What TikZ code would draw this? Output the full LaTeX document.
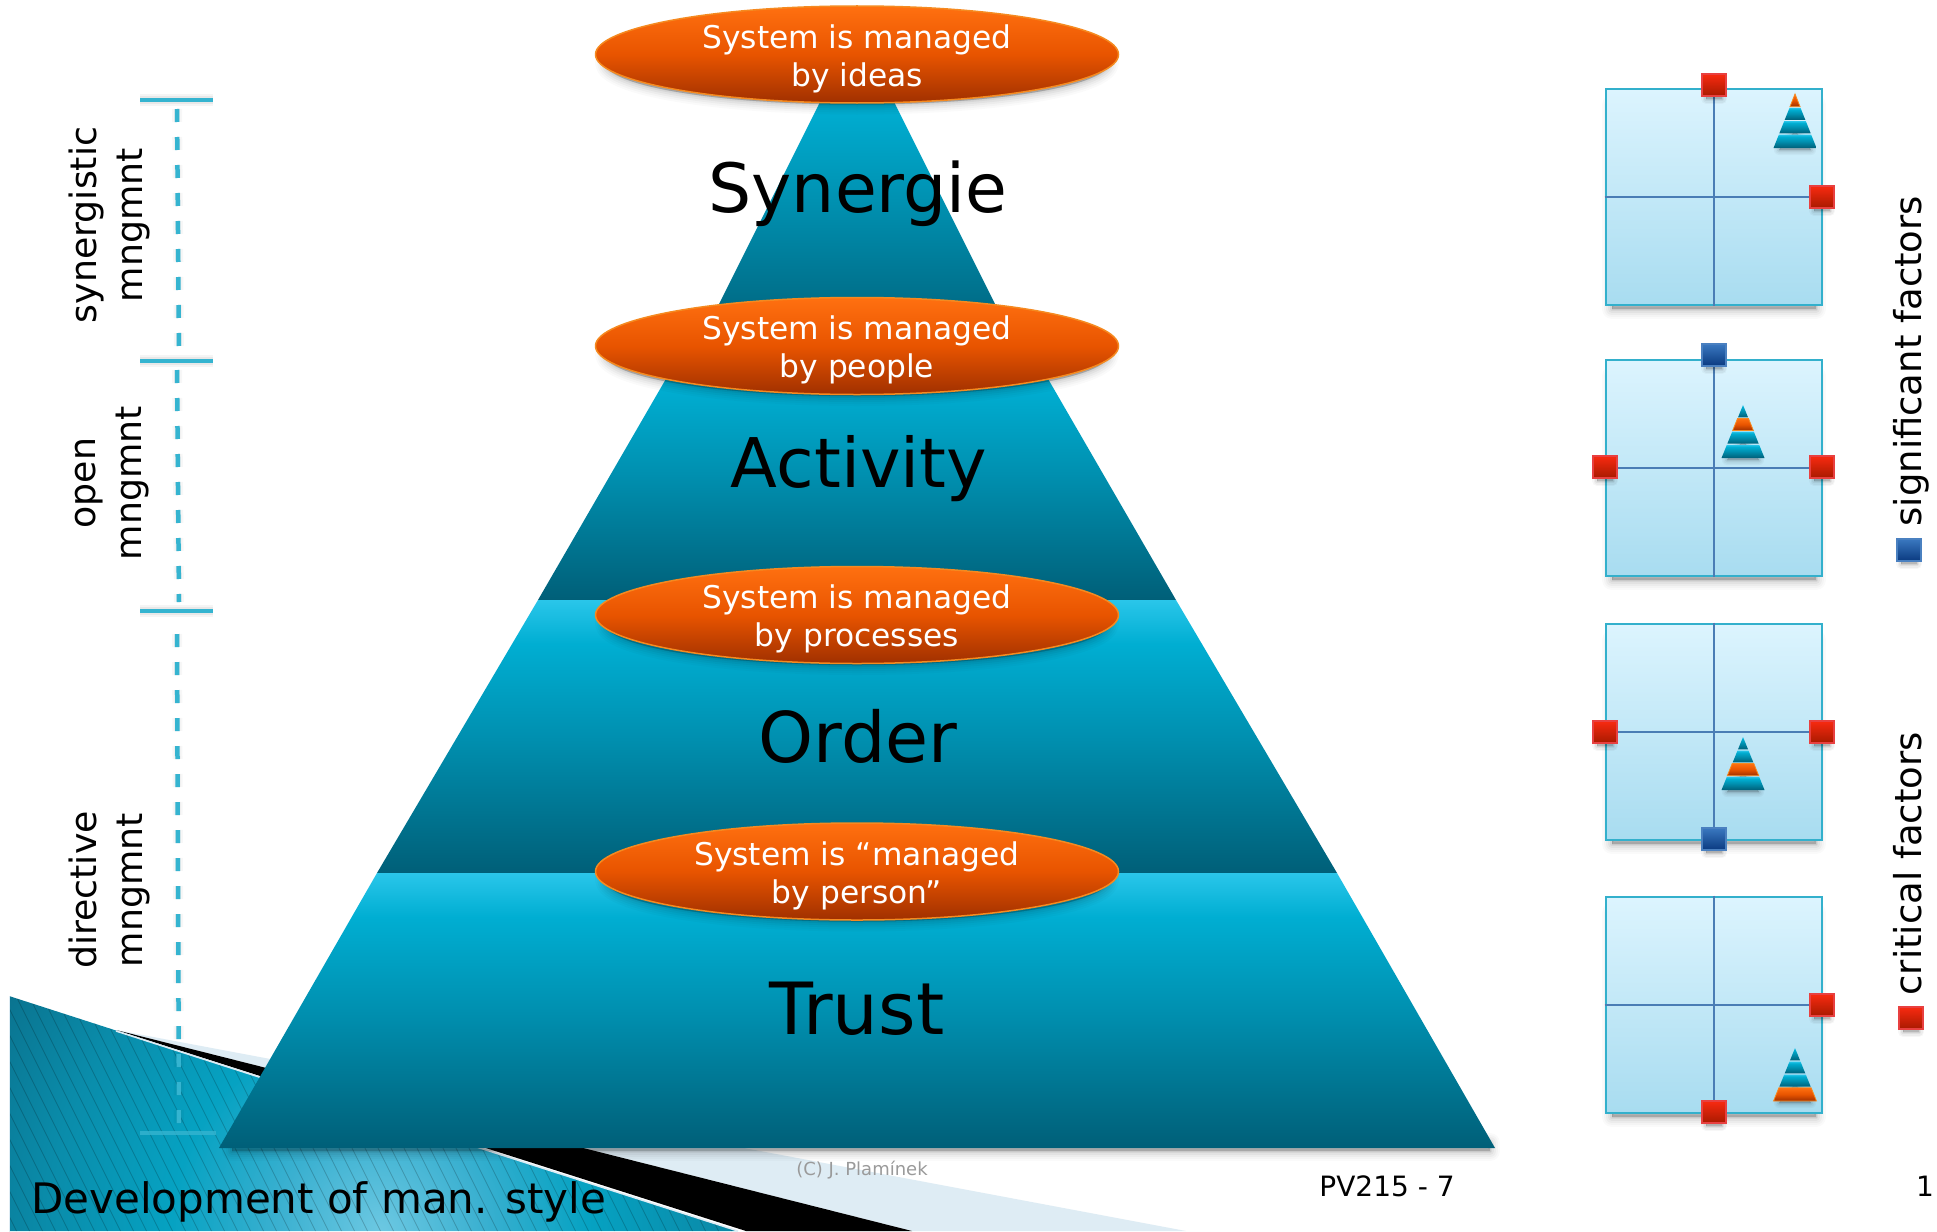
\documentclass[tikz,border=0pt]{standalone}
\usepackage{fontspec}
\setmainfont{DejaVu Sans}
\usetikzlibrary{shapes.geometric}
\definecolor{lvA}{HTML}{005F78}\definecolor{lvB}{HTML}{0090B0}\definecolor{lvC}{HTML}{00AED2}\definecolor{lvD}{HTML}{2AC6EA}
\definecolor{orA}{HTML}{A03000}\definecolor{orB}{HTML}{E85400}\definecolor{orC}{HTML}{FF7010}\definecolor{orE}{HTML}{F58A20}
\definecolor{rdA}{HTML}{A81A00}\definecolor{rdB}{HTML}{F82A10}\definecolor{rdE}{HTML}{E84040}
\definecolor{blA}{HTML}{0A3A80}\definecolor{blB}{HTML}{3A78C0}\definecolor{blE}{HTML}{4A80C0}
\definecolor{pgA}{HTML}{A8DCF0}\definecolor{pgB}{HTML}{DCF4FE}\definecolor{pgE}{HTML}{33B0CC}\definecolor{crossC}{HTML}{4A7DB5}
\definecolor{bandC}{HTML}{DEECF4}\definecolor{brk}{HTML}{35B4D0}\definecolor{gryT}{HTML}{9A9A9A}
\definecolor{sA}{HTML}{0A7490}\definecolor{sE}{HTML}{0A8CAA}\definecolor{sB}{HTML}{06A2C2}\definecolor{sC}{HTML}{3AB0D0}\definecolor{sD}{HTML}{6CC8E2}
\pgfdeclareverticalshading{levelshade}{100bp}{color(0bp)=(lvA);color(25bp)=(lvA);color(50bp)=(lvB);color(67bp)=(lvC);color(75bp)=(lvD);color(100bp)=(lvD)}
\pgfdeclareverticalshading{orangeshade}{100bp}{color(0bp)=(orA);color(25bp)=(orA);color(50bp)=(orB);color(75bp)=(orC);color(100bp)=(orC)}
\pgfdeclareverticalshading{redshade}{100bp}{color(0bp)=(rdA);color(25bp)=(rdA);color(75bp)=(rdB);color(100bp)=(rdB)}
\pgfdeclareverticalshading{blueshade}{100bp}{color(0bp)=(blA);color(25bp)=(blA);color(75bp)=(blB);color(100bp)=(blB)}
\pgfdeclareverticalshading{pageshade}{100bp}{color(0bp)=(pgA);color(25bp)=(pgA);color(75bp)=(pgB);color(100bp)=(pgB)}
\pgfdeclareradialshading{bgshade}{\pgfpoint{0bp}{0bp}}{color(0bp)=(sD);color(5bp)=(sC);color(10bp)=(sB);color(16bp)=(sE);color(21bp)=(sA);color(50bp)=(sA)}
\newcommand{\softshd}[2]{%
  \foreach \w/\o in {20/.02,16/.025,12/.03,8/.04,4/.05,1/.06}{%
    \fill[black,draw=black,line join=round,line width=\w pt,opacity=\o,yshift=-#1 pt] #2;}}
% mini pyramid: centre x, top y, bottom y, half width, orange level (1..4)
\newcommand{\minipyr}[5]{%
  \pgfmathsetmacro{\mh}{#3-#2}
  \foreach \w/\o in {10/.03,7/.04,4/.05,1/.06}{%
    \fill[black,draw=black,line join=round,line width=\w pt,opacity=\o,yshift=-5pt] (#1-#4*.75,#3-3) -- (#1,#3-22) -- (#1+#4*.75,#3-3) -- cycle;}
  \foreach \lv/\fa/\fb in {1/0/.235,2/.255/.48,3/.50/.73,4/.75/1}{%
    \pgfmathsetmacro{\ya}{#2+\fa*\mh}
    \pgfmathsetmacro{\yb}{#2+\fb*\mh}
    \pgfmathsetmacro{\wa}{#4*\fa}
    \pgfmathsetmacro{\wb}{#4*\fb}
    \ifnum\lv=#5\relax
      \path[shading=orangeshade,draw=orE,line width=.8pt] (#1-\wa,\ya) -- (#1+\wa,\ya) -- (#1+\wb,\yb) -- (#1-\wb,\yb) -- cycle;
    \else
      \path[shading=levelshade] (#1-\wa,\ya) -- (#1+\wa,\ya) -- (#1+\wb,\yb) -- (#1-\wb,\yb) -- cycle;
    \fi}}
\tikzset{
  lvl/.style={shading=levelshade},
  bubble/.style={ellipse,shading=orangeshade,draw=orE,line width=1.5pt,minimum width=523pt,minimum height=97pt,inner sep=0pt},
  bubbletext/.style={align=center,text=white,inner sep=0pt,font=\fontsize{31.3}{38}\selectfont},
  bigword/.style={anchor=base,text=black,font=\fontsize{#1}{80}\selectfont},
  pagebox/.style={rectangle,shading=pageshade,draw=pgE,line width=2.6pt,minimum width=216pt,minimum height=216pt,inner sep=0pt},
  crossline/.style={draw=crossC,line width=2.3pt},
  redsq/.style={rectangle,shading=redshade,draw=rdE,line width=1.2pt,minimum width=24pt,minimum height=22pt,inner sep=0pt},
  bluesq/.style={rectangle,shading=blueshade,draw=blE,line width=1.2pt,minimum width=24pt,minimum height=22pt,inner sep=0pt},
  sidelabel/.style={rotate=90,align=center,text=black,font=\fontsize{36.3}{46}\selectfont},
  legendlabel/.style={rotate=90,anchor=base west,text=black,font=\fontsize{37}{44}\selectfont},
  tick/.style={draw=brk,line width=4.5pt},
  dashline/.style={draw=brk,line width=4.5pt,dash pattern=on 13pt off 15pt},
  footer/.style={anchor=base,text=black,font=\fontsize{28}{32}\selectfont}
}
\begin{document}
\begin{tikzpicture}[x=1pt,y=-1pt]
\useasboundingbox (0,0) rectangle (1937,1231);
\fill[white] (0,0) rectangle (1937,1231);
% background wedges
\fill[bandC] (116,1030) -- (1186,1231) -- (912,1231) -- cycle;
\fill[black] (116,1030) -- (912,1231) -- (746,1231) -- cycle;
\begin{scope}
  \clip (9,996) -- (738,1231) -- (9,1231) -- cycle;
  \shade[shading=bgshade] (380,1230) circle (520);
  \foreach \hx in {-130,-117,...,750}{
    \draw[black,opacity=.2,line width=.8pt] (\hx,990) -- (\hx+130,1250);}
\end{scope}
\draw[bandC,line width=1.5pt] (116,1031) -- (738,1231);
\draw[bandC,line width=1pt] (9,996) -- (9,1231);
% brackets
\coordinate (t1a) at (140,100); \coordinate (t1b) at (213,100);
\coordinate (t2a) at (140,361); \coordinate (t2b) at (213,361);
\coordinate (t3a) at (140,611); \coordinate (t3b) at (213,611);
\coordinate (t4a) at (140,1133); \coordinate (t4b) at (216,1133);
\coordinate (d1a) at (177,109); \coordinate (d1b) at (179,352);
\coordinate (d2a) at (177,370); \coordinate (d2b) at (179,602);
\coordinate (d3a) at (177,634); \coordinate (d3b) at (179,1125);
\foreach \p/\q in {t1a/t1b,t2a/t2b,t3a/t3b}{
  \foreach \w/\o in {12/.04,8/.05,4/.06}{\draw[black,line width=\w pt,opacity=\o,yshift=-8pt] (\p) -- (\q);}
  \draw[tick] (\p) -- (\q);}
\draw[tick,opacity=.8] (t4a) -- (t4b);
\foreach \p/\q in {d1a/d1b,d2a/d2b,d3a/d3b}{
  \foreach \w/\o in {10/.03,6/.04}{\draw[black,line width=\w pt,opacity=\o,dash pattern=on 13pt off 15pt,yshift=-6pt] (\p) -- (\q);}
  \draw[dashline] (\p) -- (\q);}
% pyramid
\softshd{3}{(232,1140) rectangle (1490,1148)}
\path[lvl] (841,60) -- (873,60) -- (1016,346) -- (698,346) -- cycle;
\path[lvl] (685,346) -- (1029,346) -- (1176,600) -- (538,600) -- cycle;
\path[lvl] (538,600) -- (1176,600) -- (1337,873) -- (377,873) -- cycle;
\path[lvl] (377,873) -- (1337,873) -- (1495,1148) -- (219,1148) -- cycle;
\node[bigword=68] (synergie) at (858,212) {Synergie};
\node[bigword=68.5] (activity) at (859,487) {Activity};
\node[bigword=70] (order) at (858,762) {Order};
\node[bigword=72] (trust) at (857,1034) {Trust};
% bubbles
\foreach \cy in {54.5,346,615,871.5}{\softshd{8}{(857,\cy) ellipse [x radius=252,y radius=42]}}
\node[bubble] (b1) at (857,54.5) {};
\node[bubble] (b2) at (857,346) {};
\node[bubble] (b3) at (857,615) {};
\node[bubble] (b4) at (857,871.5) {};
\node[bubbletext] (b1t) at ([yshift=-4pt]b1.center) {System is managed\\by ideas};
\node[bubbletext] (b2t) at ([yshift=-4pt]b2.center) {System is managed\\by people};
\node[bubbletext] (b3t) at ([yshift=-4pt]b3.center) {System is managed\\by processes};
\node[bubbletext] (b4t) at ([yshift=-4pt]b4.center) {System is “managed\\by person”};
% side labels
\node[sidelabel] (sl1) at (109,225) {synergistic\\mngmnt};
\node[sidelabel] (sl2) at (112,483) {open\\mngmnt};
\node[sidelabel] (sl3) at (109,890) {directive\\mngmnt};
% quadrant boxes
\foreach \cy/\nm in {197/p1,468/p2,732/p3,1005/p4}{
  \softshd{8}{(1612,\cy-100) rectangle (1816,\cy+104)}
  \node[pagebox] (\nm) at (1714,\cy) {};
  \draw[crossline] (\nm.north) -- (\nm.south);
  \draw[crossline] (\nm.west) -- (\nm.east);
}
\minipyr{1795}{94}{148}{21.5}{1}
\minipyr{1743}{405}{458}{21.5}{2}
\minipyr{1743}{737}{790}{21.5}{3}
\minipyr{1795}{1048}{1101}{21.5}{4}
% factor squares
\foreach \nm/\sx/\sy/\st in {f1/1714/85/redsq,f2/1822/197/redsq,
  f3/1714/355/bluesq,f4/1605/467/redsq,f5/1822/467/redsq,
  f6/1605/732/redsq,f7/1822/732/redsq,f8/1714/839/bluesq,
  f9/1822/1005/redsq,f10/1714/1112/redsq,
  lg1/1909/550/bluesq,lg2/1911/1018/redsq}{
  \foreach \w/\o in {10/.03,7/.04,4/.05,1/.07}{%
    \fill[black,draw=black,line join=round,line width=\w pt,opacity=\o,yshift=-7pt] (\sx-8,\sy-7) rectangle (\sx+8,\sy+7);}
  \node[\st] (\nm) at (\sx,\sy) {};
}
% legend
\node[legendlabel] (sigl) at (1921,530) {significant factors};
\node[legendlabel] (critl) at (1921,999) {critical factors};
% footer
\node[anchor=base west,text=black,inner sep=0pt,font=\fontsize{42}{50}\selectfont] (title) at (31,1213) {Development of man. style};
\node[anchor=base,text=gryT,font=\fontsize{18}{22}\selectfont] (copy) at (862,1175) {(C) J. Plamínek};
\node[footer] (pv) at (1387,1196) {PV215 - 7};
\node[footer] (pg) at (1925,1196) {1};
\end{tikzpicture}
\end{document}
